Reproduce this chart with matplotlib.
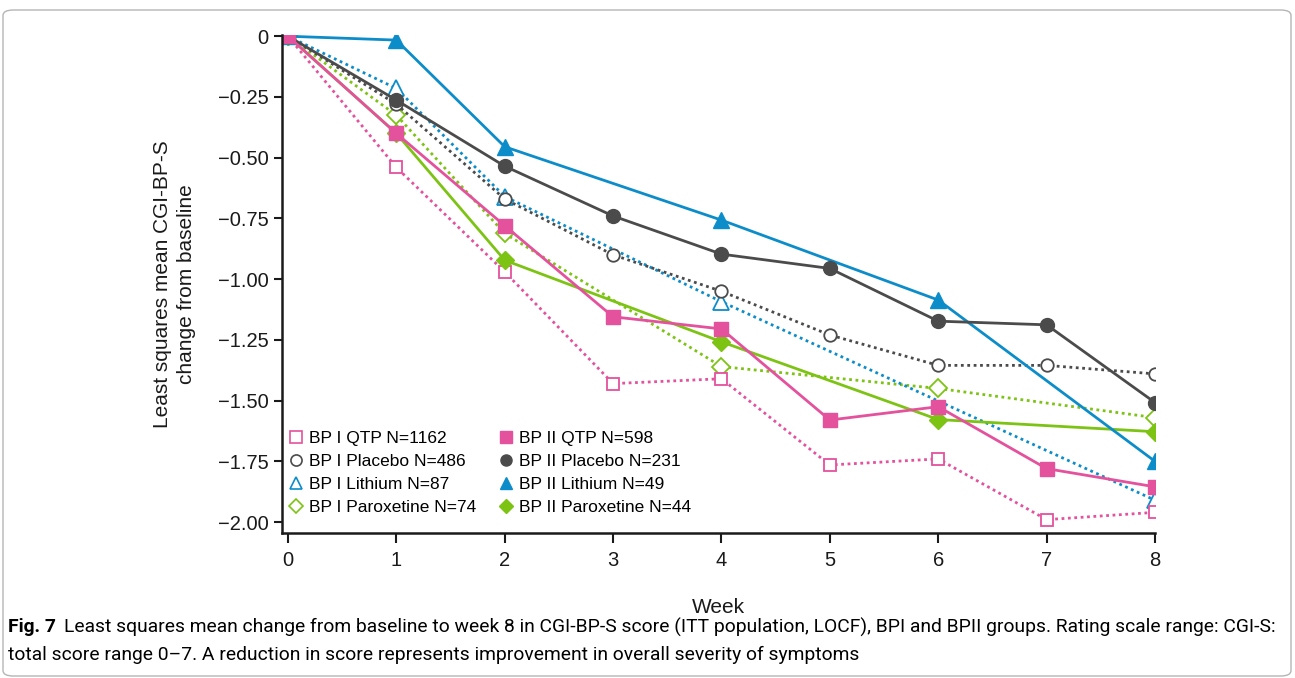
import matplotlib
matplotlib.use('Agg')
import matplotlib.pyplot as plt
from matplotlib.lines import Line2D
from matplotlib.patches import FancyBboxPatch

plt.rcParams['font.family'] = ['Liberation Sans', 'DejaVu Sans']

# weeks and values
weeks_all = [0, 1, 2, 3, 4, 5, 6, 7, 8]
weeks_sparse = [0, 1, 2, 4, 6, 8]
weeks_li1 = [0, 1, 2, 4, 8]

bp1_qtp = [0, -0.54, -0.97, -1.43, -1.41, -1.765, -1.74, -1.99, -1.96]
bp2_qtp = [0, -0.40, -0.78, -1.155, -1.205, -1.58, -1.525, -1.78, -1.855]
bp1_placebo = [0, -0.28, -0.67, -0.90, -1.05, -1.23, -1.355, -1.355, -1.39]
bp2_placebo = [0, -0.263, -0.535, -0.74, -0.897, -0.956, -1.173, -1.188, -1.508]
bp1_lithium = [0, -0.215, -0.66, -1.093, -1.91]
bp2_lithium = [0, -0.016, -0.455, -0.757, -1.086, -1.75]
bp1_parox = [0, -0.325, -0.812, -1.36, -1.45, -1.57]
bp2_parox = [0, -0.40, -0.922, -1.258, -1.578, -1.628]

labels_bp1 = ['BP I QTP N=1162', 'BP I Placebo N=486', 'BP I Lithium N=87', 'BP I Paroxetine N=74']
labels_bp2 = ['BP II QTP N=598', 'BP II Placebo N=231', 'BP II Lithium N=49', 'BP II Paroxetine N=44']

pink = '#E4519C'
dark = '#4B4B4B'
blue = '#0C8DC9'
green = '#7DC314'
ink = '#1a1a1a'

fig = plt.figure(figsize=(12.95, 6.78), dpi=100)
ax = fig.add_axes([282/1295, 1-533/678, (1155-282)/1295, (533-35)/678])

dot = (0, (1, 1.3))
lw = 2.0

# BP I (dotted, open markers)
ax.plot(weeks_sparse, bp1_parox, ls=dot, lw=lw, color=green, marker='D', ms=9, mfc='white', mec=green, mew=1.3)
ax.plot(weeks_li1, bp1_lithium, ls=dot, lw=lw, color=blue, marker='^', ms=11, mfc='white', mec=blue, mew=1.3)
ax.plot(weeks_all, bp1_placebo, ls=dot, lw=lw, color=dark, marker='o', ms=9, mfc='white', mec=dark, mew=1.3)
ax.plot(weeks_all, bp1_qtp, ls=dot, lw=lw, color=pink, marker='s', ms=9, mfc='white', mec=pink, mew=1.3)
# BP II (solid, filled markers)
ax.plot(weeks_sparse, bp2_parox, ls='-', lw=lw, color=green, marker='D', ms=9)
ax.plot(weeks_sparse, bp2_lithium, ls='-', lw=lw, color=blue, marker='^', ms=11)
ax.plot(weeks_all, bp2_placebo, ls='-', lw=lw, color=dark, marker='o', ms=10)
ax.plot(weeks_all, bp2_qtp, ls='-', lw=lw, color=pink, marker='s', ms=10)

ax.set_xlim(-0.055, 8.0)
ax.set_ylim(-2.045, 0.005)
ax.set_xticks(weeks_all)
ax.set_yticks([0, -0.25, -0.5, -0.75, -1.0, -1.25, -1.5, -1.75, -2.0])
ax.set_yticklabels(['0', '\u22120.25', '\u22120.50', '\u22120.75', '\u22121.00',
                    '\u22121.25', '\u22121.50', '\u22121.75', '\u22122.00'])
for s in ['top', 'right']:
    ax.spines[s].set_visible(False)
for s in ['left', 'bottom']:
    ax.spines[s].set_linewidth(1.8)
    ax.spines[s].set_color(ink)
ax.tick_params(axis='both', labelsize=14.5, length=6, width=1.5, color=ink, labelcolor=ink)
ax.tick_params(axis='x', length=7, pad=6)
ax.set_xlabel('Week', fontsize=15, labelpad=20, color=ink)
ax.set_ylabel('Least squares mean CGI-BP-S\nchange from baseline', fontsize=15, labelpad=16,
              color=ink, linespacing=1.35)

handles = [
    Line2D([], [], ls='none', marker='s', ms=8, mfc='white', mec=pink, mew=1.2),
    Line2D([], [], ls='none', marker='o', ms=8, mfc='white', mec=dark, mew=1.2),
    Line2D([], [], ls='none', marker='^', ms=9, mfc='white', mec=blue, mew=1.2),
    Line2D([], [], ls='none', marker='D', ms=7, mfc='white', mec=green, mew=1.2),
    Line2D([], [], ls='none', marker='s', ms=8, color=pink),
    Line2D([], [], ls='none', marker='o', ms=8, color=dark),
    Line2D([], [], ls='none', marker='^', ms=9, color=blue),
    Line2D([], [], ls='none', marker='D', ms=7, color=green),
]
ax.legend(handles, labels_bp1 + labels_bp2, ncol=2, loc='upper left',
          bbox_to_anchor=(0.0, 0.219), frameon=False, fontsize=12.5,
          handlelength=0.8, handletextpad=0.35, labelspacing=0.45,
          columnspacing=1.3, borderaxespad=0.0)

# caption, sized so the first line spans the width like the original
cap_font = ['Roboto', 'Liberation Sans', 'DejaVu Sans']
line1 = ('Least squares mean change from baseline to week 8 in CGI-BP-S score (ITT population, LOCF), '
         'BPI and BPII groups. Rating scale range: CGI-S:')
line2 = 'total score range 0\u20137. A reduction in score represents improvement in overall severity of symptoms'
fs = 14
t1 = fig.text(8/1295, 1-627/678, 'Fig. 7', fontsize=fs, fontweight='bold', va='center', family=cap_font)
fig.canvas.draw()
bb = t1.get_window_extent()
t2 = fig.text((bb.x1 + 8)/1295, 1-627/678, line1, fontsize=fs, va='center', family=cap_font)
fig.canvas.draw()
scale = (1283 - 8) / (t2.get_window_extent().x1 - 8)
fs = fs * scale
t1.set_fontsize(fs)
fig.canvas.draw()
bb = t1.get_window_extent()
t2.set_fontsize(fs)
t2.set_x((bb.x1 + 8)/1295)
fig.text(8/1295, 1-655/678, line2, fontsize=fs, va='center', family=cap_font)

border = FancyBboxPatch((3/1295, 2/678), 1288/1295, 666/678, transform=fig.transFigure,
                        boxstyle='round,pad=0,rounding_size=0.008', ec='#b5b5b5', fc='none', lw=1.0)
fig.patches.append(border)

fig.savefig('out.png', dpi=100)
